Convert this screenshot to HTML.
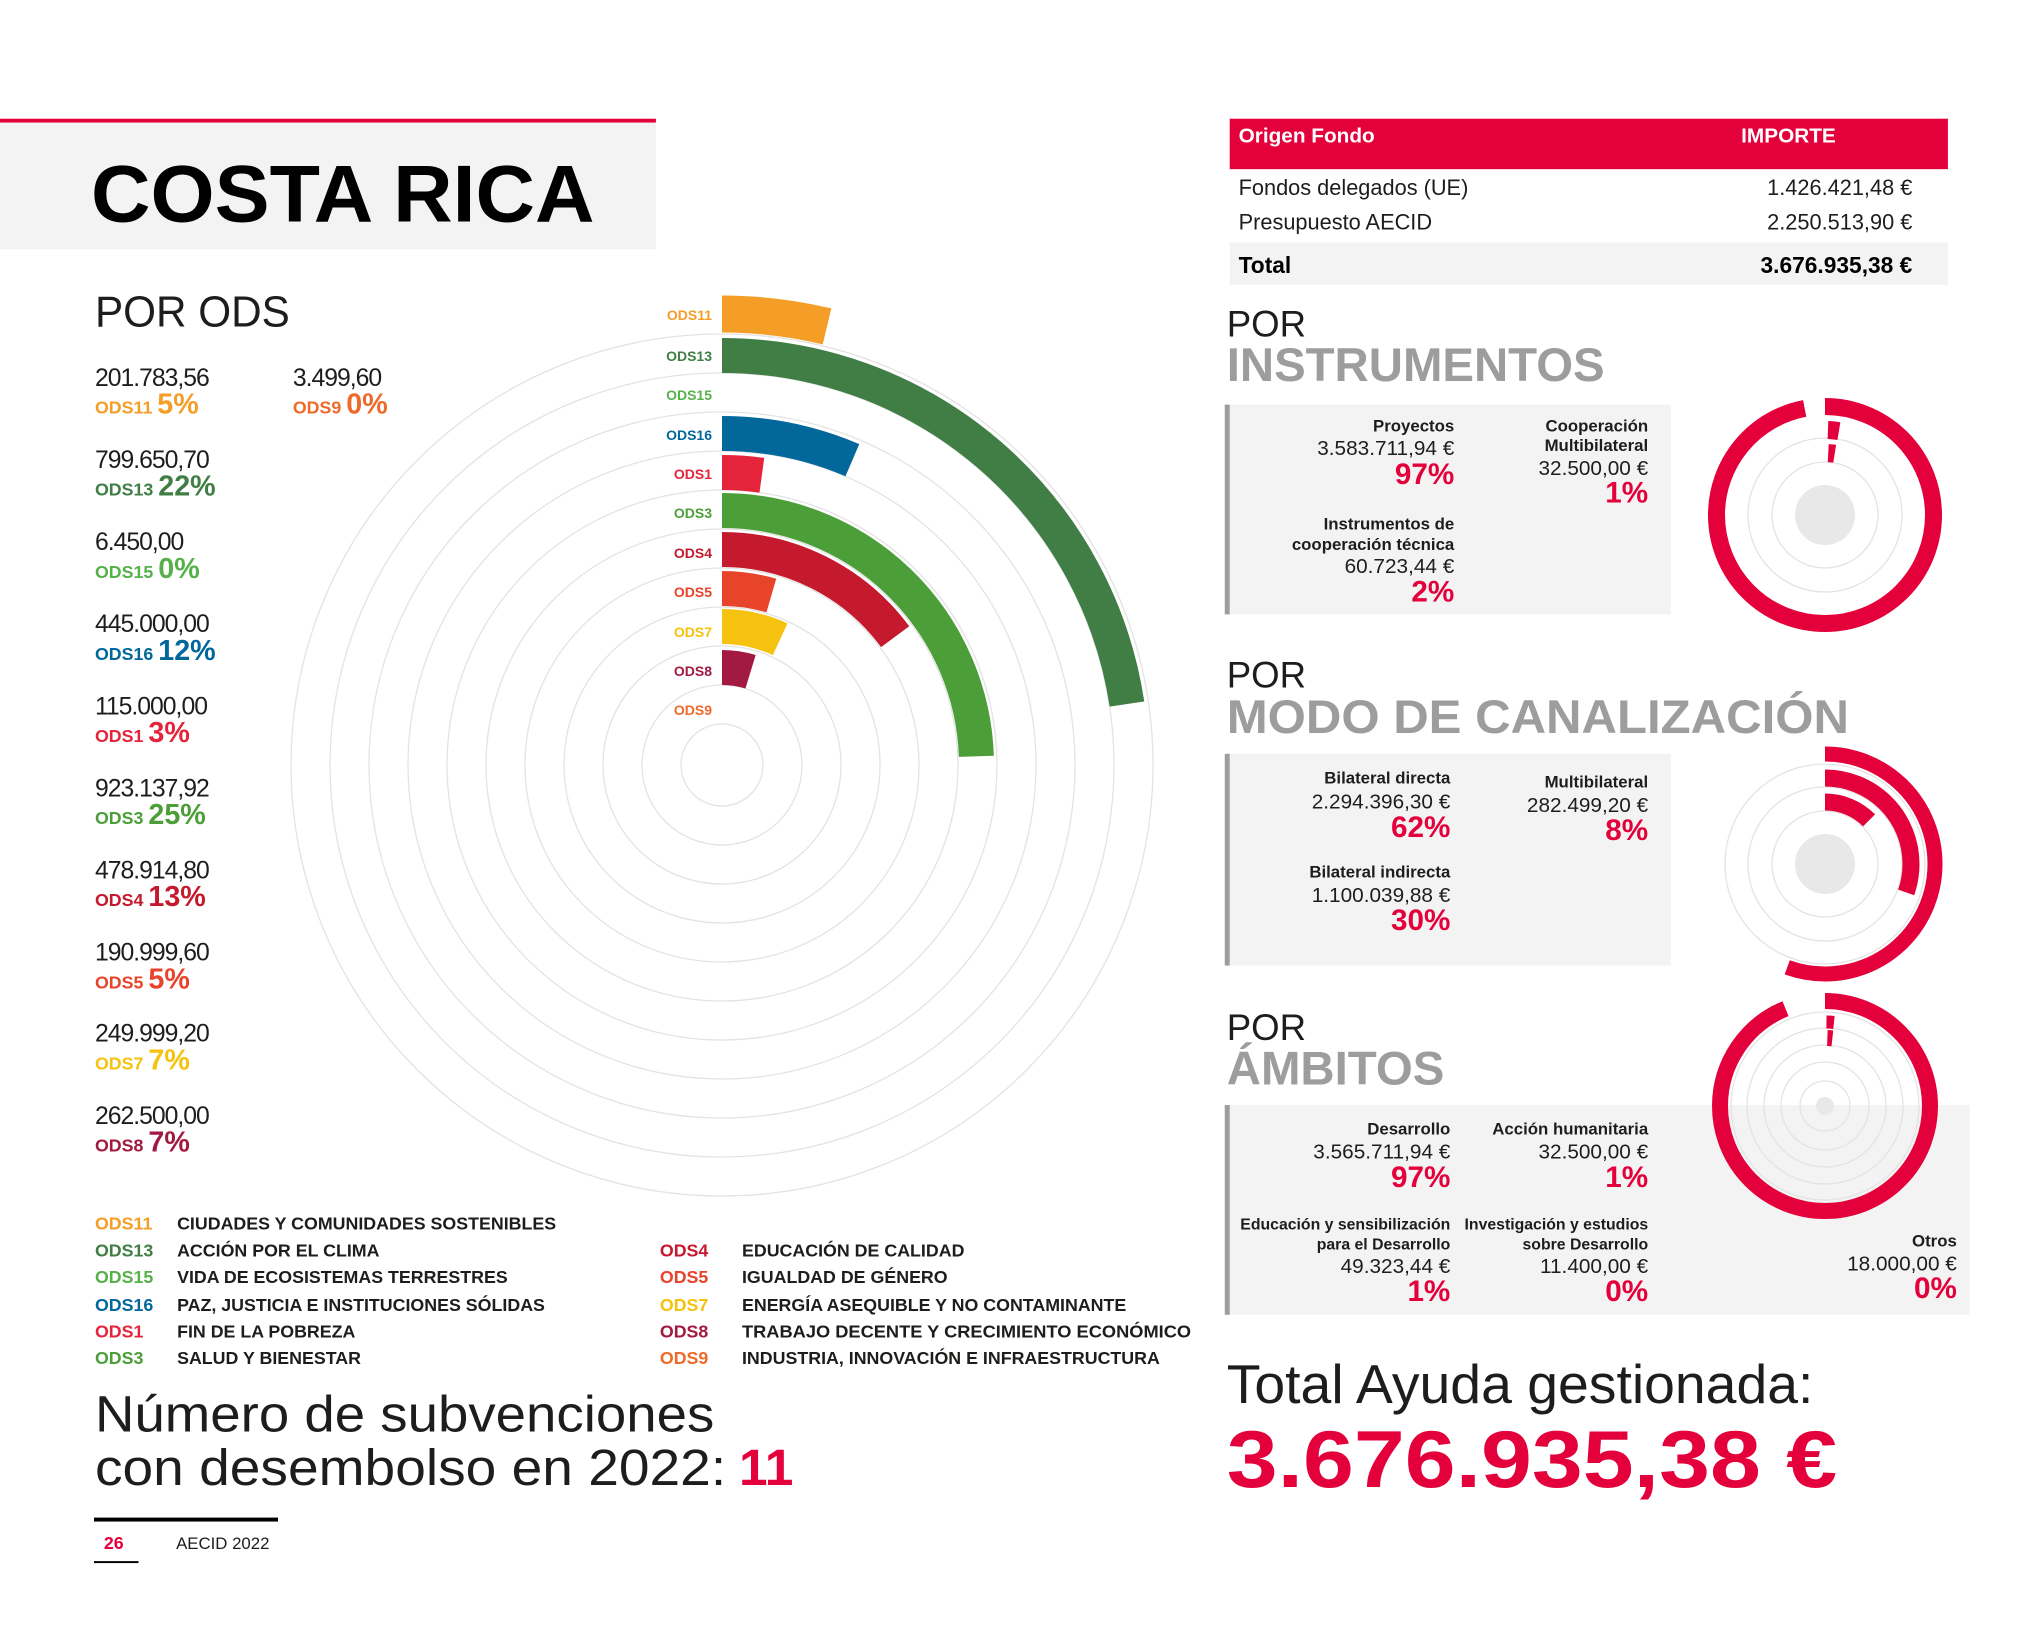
<!DOCTYPE html>
<html><head><meta charset="utf-8"><style>
html,body{margin:0;padding:0;background:#fff}
svg{display:block}
text{font-family:"Liberation Sans",sans-serif}
</style></head><body>
<svg width="2044" height="1636" viewBox="0 0 2044 1636" xmlns="http://www.w3.org/2000/svg">
<g transform="scale(0.9893)">
<!-- Title block -->
<rect x="0" y="120" width="663" height="4" fill="#e4003b"/>
<rect x="0" y="124" width="663" height="128" fill="#f3f3f3"/>
<text x="92" y="224" font-size="82" font-weight="bold" fill="#000" textLength="509" lengthAdjust="spacingAndGlyphs">COSTA RICA</text>

<text x="96" y="330" font-size="44" fill="#1d1d1b" textLength="197" lengthAdjust="spacingAndGlyphs">POR ODS</text>

<g font-size="25" fill="#1d1d1b" letter-spacing="-1">
<text x="96" y="390">201.783,56</text>
<text x="296" y="390">3.499,60</text>
<text x="96" y="473">799.650,70</text>
<text x="96" y="556">6.450,00</text>
<text x="96" y="639">445.000,00</text>
<text x="96" y="722">115.000,00</text>
<text x="96" y="805">923.137,92</text>
<text x="96" y="888">478.914,80</text>
<text x="96" y="971">190.999,60</text>
<text x="96" y="1053">249.999,20</text>
<text x="96" y="1136">262.500,00</text>
</g>
<g font-weight="bold">
<text x="96" y="418" fill="#f49e28"><tspan font-size="18">ODS11 </tspan><tspan font-size="29">5%</tspan></text>
<text x="296" y="418" fill="#ee6a2a"><tspan font-size="18">ODS9 </tspan><tspan font-size="29">0%</tspan></text>
<text x="96" y="501" fill="#407e45"><tspan font-size="18">ODS13 </tspan><tspan font-size="29">22%</tspan></text>
<text x="96" y="584" fill="#56b14a"><tspan font-size="18">ODS15 </tspan><tspan font-size="29">0%</tspan></text>
<text x="96" y="667" fill="#02689b"><tspan font-size="18">ODS16 </tspan><tspan font-size="29">12%</tspan></text>
<text x="96" y="750" fill="#e5243b"><tspan font-size="18">ODS1 </tspan><tspan font-size="29">3%</tspan></text>
<text x="96" y="833" fill="#4c9f38"><tspan font-size="18">ODS3 </tspan><tspan font-size="29">25%</tspan></text>
<text x="96" y="916" fill="#c5192d"><tspan font-size="18">ODS4 </tspan><tspan font-size="29">13%</tspan></text>
<text x="96" y="999" fill="#e8432b"><tspan font-size="18">ODS5 </tspan><tspan font-size="29">5%</tspan></text>
<text x="96" y="1081" fill="#f5c20f"><tspan font-size="18">ODS7 </tspan><tspan font-size="29">7%</tspan></text>
<text x="96" y="1164" fill="#a21942"><tspan font-size="18">ODS8 </tspan><tspan font-size="29">7%</tspan></text>
</g>

<g font-size="18" font-weight="bold">
<text x="96" y="1243" fill="#f49e28">ODS11</text><text x="179" y="1243" fill="#1d1d1b">CIUDADES Y COMUNIDADES SOSTENIBLES</text>
<text x="96" y="1270" fill="#407e45">ODS13</text><text x="179" y="1270" fill="#1d1d1b">ACCIÓN POR EL CLIMA</text>
<text x="96" y="1297" fill="#56b14a">ODS15</text><text x="179" y="1297" fill="#1d1d1b">VIDA DE ECOSISTEMAS TERRESTRES</text>
<text x="96" y="1325" fill="#02689b">ODS16</text><text x="179" y="1325" fill="#1d1d1b">PAZ, JUSTICIA E INSTITUCIONES SÓLIDAS</text>
<text x="96" y="1352" fill="#e5243b">ODS1</text><text x="179" y="1352" fill="#1d1d1b">FIN DE LA POBREZA</text>
<text x="96" y="1379" fill="#4c9f38">ODS3</text><text x="179" y="1379" fill="#1d1d1b">SALUD Y BIENESTAR</text>
<text x="667" y="1270" fill="#c5192d">ODS4</text><text x="750" y="1270" fill="#1d1d1b">EDUCACIÓN DE CALIDAD</text>
<text x="667" y="1297" fill="#e8432b">ODS5</text><text x="750" y="1297" fill="#1d1d1b">IGUALDAD DE GÉNERO</text>
<text x="667" y="1325" fill="#f5c20f">ODS7</text><text x="750" y="1325" fill="#1d1d1b">ENERGÍA ASEQUIBLE Y NO CONTAMINANTE</text>
<text x="667" y="1352" fill="#a21942">ODS8</text><text x="750" y="1352" fill="#1d1d1b" textLength="454" lengthAdjust="spacingAndGlyphs">TRABAJO DECENTE Y CRECIMIENTO ECONÓMICO</text>
<text x="667" y="1379" fill="#ee6a2a">ODS9</text><text x="750" y="1379" fill="#1d1d1b">INDUSTRIA, INNOVACIÓN E INFRAESTRUCTURA</text>
</g>

<text x="96" y="1447" font-size="52" fill="#1d1d1b" textLength="626" lengthAdjust="spacingAndGlyphs">Número de subvenciones</text>
<text x="96" y="1501" font-size="52" fill="#1d1d1b" textLength="638" lengthAdjust="spacingAndGlyphs">con desembolso en 2022:</text>
<text x="747" y="1501" font-size="52" font-weight="bold" fill="#e4003b">11</text>

<rect x="95" y="1534" width="186" height="4" fill="#000"/>
<text x="105" y="1566" font-size="18" font-weight="bold" fill="#e4003b">26</text>
<rect x="95" y="1578" width="45" height="2" fill="#000"/>
<text x="178" y="1566" font-size="17" fill="#1d1d1b">AECID 2022</text>

<rect x="1243" y="120" width="726" height="51" fill="#e4003b"/>
<text x="1252" y="144" font-size="21" font-weight="bold" fill="#fff">Origen Fondo</text>
<text x="1760" y="144" font-size="21" font-weight="bold" fill="#fff">IMPORTE</text>
<text x="1252" y="197" font-size="22" fill="#1d1d1b">Fondos delegados (UE)</text>
<text x="1933" y="197" font-size="22" fill="#1d1d1b" text-anchor="end">1.426.421,48 €</text>
<text x="1252" y="232" font-size="22" fill="#1d1d1b">Presupuesto AECID</text>
<text x="1933" y="232" font-size="22" fill="#1d1d1b" text-anchor="end">2.250.513,90 €</text>
<rect x="1243" y="245" width="726" height="43" fill="#f3f3f3"/>
<text x="1252" y="276" font-size="23" font-weight="bold" fill="#000">Total</text>
<text x="1933" y="276" font-size="23" font-weight="bold" fill="#000" text-anchor="end">3.676.935,38 €</text>

<text x="1240" y="340" font-size="37" fill="#1d1d1b">POR</text>
<text x="1240" y="385" font-size="48" font-weight="bold" fill="#9d9d9c" textLength="382" lengthAdjust="spacingAndGlyphs">INSTRUMENTOS</text>
<rect x="1240" y="409" width="449" height="212" fill="#f3f3f3"/>
<rect x="1238" y="409" width="5" height="212" fill="#9d9d9c"/>
<g text-anchor="end" fill="#1d1d1b">
<text x="1470" y="436" font-size="17" font-weight="bold">Proyectos</text>
<text x="1470" y="460" font-size="21">3.583.711,94 €</text>
<text x="1470" y="489" font-size="30" font-weight="bold" fill="#e4003b">97%</text>
<text x="1470" y="535" font-size="17" font-weight="bold">Instrumentos de</text>
<text x="1470" y="556" font-size="17" font-weight="bold">cooperación técnica</text>
<text x="1470" y="579" font-size="21">60.723,44 €</text>
<text x="1470" y="608" font-size="30" font-weight="bold" fill="#e4003b">2%</text>
<text x="1666" y="436" font-size="17" font-weight="bold">Cooperación</text>
<text x="1666" y="456" font-size="17" font-weight="bold">Multibilateral</text>
<text x="1666" y="480" font-size="21">32.500,00 €</text>
<text x="1666" y="508" font-size="30" font-weight="bold" fill="#e4003b">1%</text>
</g>

<text x="1240" y="695" font-size="37" fill="#1d1d1b">POR</text>
<text x="1240" y="741" font-size="48" font-weight="bold" fill="#9d9d9c" textLength="629" lengthAdjust="spacingAndGlyphs">MODO DE CANALIZACIÓN</text>
<rect x="1240" y="762" width="449" height="214" fill="#f3f3f3"/>
<rect x="1238" y="762" width="5" height="214" fill="#9d9d9c"/>
<g text-anchor="end" fill="#1d1d1b">
<text x="1466" y="792" font-size="17" font-weight="bold">Bilateral directa</text>
<text x="1466" y="817" font-size="21">2.294.396,30 €</text>
<text x="1466" y="846" font-size="30" font-weight="bold" fill="#e4003b">62%</text>
<text x="1466" y="887" font-size="17" font-weight="bold">Bilateral indirecta</text>
<text x="1466" y="912" font-size="21">1.100.039,88 €</text>
<text x="1466" y="940" font-size="30" font-weight="bold" fill="#e4003b">30%</text>
<text x="1666" y="796" font-size="17" font-weight="bold">Multibilateral</text>
<text x="1666" y="821" font-size="21">282.499,20 €</text>
<text x="1666" y="849" font-size="30" font-weight="bold" fill="#e4003b">8%</text>
</g>

<text x="1240" y="1051" font-size="37" fill="#1d1d1b">POR</text>
<text x="1240" y="1096" font-size="48" font-weight="bold" fill="#9d9d9c" textLength="220" lengthAdjust="spacingAndGlyphs">ÁMBITOS</text>
<rect x="1240" y="1117" width="751" height="212" fill="#f3f3f3"/>
<rect x="1238" y="1117" width="5" height="212" fill="#9d9d9c"/>

<text x="1240" y="1418" font-size="55" fill="#1d1d1b" textLength="593" lengthAdjust="spacingAndGlyphs">Total Ayuda gestionada:</text>
<text x="1240" y="1503" font-size="82" font-weight="bold" fill="#e4003b" textLength="617" lengthAdjust="spacingAndGlyphs">3.676.935,38 €</text>
</g>

<!-- ODS radial chart (original coords) -->
<g fill="none" stroke="#e3e3e3" stroke-width="1.3">
<circle cx="722" cy="765" r="431"/><circle cx="722" cy="765" r="392"/><circle cx="722" cy="765" r="353"/>
<circle cx="722" cy="765" r="314"/><circle cx="722" cy="765" r="275"/><circle cx="722" cy="765" r="236"/>
<circle cx="722" cy="765" r="197"/><circle cx="722" cy="765" r="158"/><circle cx="722" cy="765" r="119"/>
<circle cx="722" cy="765" r="80"/><circle cx="722" cy="765" r="41"/>
</g>
<g fill="none" transform="rotate(-90 722 765)">
<circle cx="722" cy="765" r="451" stroke="#f49e28" stroke-width="37" stroke-dasharray="106 5000"/>
<circle cx="722" cy="765" r="409.5" stroke="#407e45" stroke-width="35" stroke-dasharray="582 5000"/>
<circle cx="722" cy="765" r="331.5" stroke="#02689b" stroke-width="35" stroke-dasharray="134 5000"/>
<circle cx="722" cy="765" r="292.5" stroke="#e5243b" stroke-width="35" stroke-dasharray="40 5000"/>
<circle cx="722" cy="765" r="254.5" stroke="#4c9f38" stroke-width="35" stroke-dasharray="391 5000"/>
<circle cx="722" cy="765" r="215.5" stroke="#c5192d" stroke-width="35" stroke-dasharray="201 5000"/>
<circle cx="722" cy="765" r="176.5" stroke="#e8432b" stroke-width="35" stroke-dasharray="50 5000"/>
<circle cx="722" cy="765" r="138.5" stroke="#f5c20f" stroke-width="35" stroke-dasharray="60 5000"/>
<circle cx="722" cy="765" r="97.5" stroke="#a21942" stroke-width="35" stroke-dasharray="29 5000"/>
</g>
<g font-size="14" font-weight="bold" text-anchor="end">
<text x="712" y="320" fill="#f49e28">ODS11</text>
<text x="712" y="361" fill="#407e45">ODS13</text>
<text x="712" y="400" fill="#56b14a">ODS15</text>
<text x="712" y="440" fill="#02689b">ODS16</text>
<text x="712" y="479" fill="#e5243b">ODS1</text>
<text x="712" y="518" fill="#4c9f38">ODS3</text>
<text x="712" y="558" fill="#c5192d">ODS4</text>
<text x="712" y="597" fill="#e8432b">ODS5</text>
<text x="712" y="637" fill="#f5c20f">ODS7</text>
<text x="712" y="676" fill="#a21942">ODS8</text>
<text x="712" y="715" fill="#ee6a2a">ODS9</text>
</g>

<!-- Donuts (original coords) -->
<g fill="none" stroke="#e3e3e3" stroke-width="1.3">
<circle cx="1825" cy="515" r="77"/><circle cx="1825" cy="515" r="53"/>
</g>
<circle cx="1825" cy="515" r="30" fill="#e8e8e8"/>
<g fill="none" stroke="#e4003b" transform="rotate(-90 1825 515)">
<circle cx="1825" cy="515" r="108.5" stroke-width="17" stroke-dasharray="661 5000"/>
<circle cx="1825" cy="515" r="85" stroke-width="18" stroke-dasharray="11 5000" transform="rotate(2 1825 515)"/>
<circle cx="1825" cy="515" r="62" stroke-width="18" stroke-dasharray="6.5 5000" transform="rotate(3 1825 515)"/>
</g>

<g fill="none" stroke="#e3e3e3" stroke-width="1.3">
<circle cx="1825" cy="864" r="100"/><circle cx="1825" cy="864" r="77"/><circle cx="1825" cy="864" r="53"/>
</g>
<circle cx="1825" cy="864" r="30" fill="#e8e8e8"/>
<g fill="none" stroke="#e4003b" transform="rotate(-90 1825 864)">
<circle cx="1825" cy="864" r="110" stroke-width="15" stroke-dasharray="384 5000"/>
<circle cx="1825" cy="864" r="86" stroke-width="17" stroke-dasharray="164 5000"/>
<circle cx="1825" cy="864" r="62" stroke-width="17" stroke-dasharray="49 5000"/>
</g>

<g fill="none" stroke="#e3e3e3" stroke-width="1.3">
<circle cx="1825" cy="1106" r="94"/><circle cx="1825" cy="1106" r="78"/><circle cx="1825" cy="1106" r="61"/>
<circle cx="1825" cy="1106" r="44"/><circle cx="1825" cy="1106" r="25"/>
</g>
<circle cx="1825" cy="1106" r="9" fill="#e8e8e8"/>
<g fill="none" stroke="#e4003b" transform="rotate(-90 1825 1106)">
<circle cx="1825" cy="1106" r="105" stroke-width="16" stroke-dasharray="619 5000"/>
<circle cx="1825" cy="1106" r="84" stroke-width="13" stroke-dasharray="7.5 5000" transform="rotate(1 1825 1106)"/>
<circle cx="1825" cy="1106" r="68" stroke-width="16" stroke-dasharray="5 5000" transform="rotate(2 1825 1106)"/>
</g>

<!-- Ámbitos texts (drawn over box, scaled) -->
<g transform="scale(0.9893)">
<g text-anchor="end" fill="#1d1d1b">
<text x="1466" y="1147" font-size="17" font-weight="bold">Desarrollo</text>
<text x="1466" y="1171" font-size="21">3.565.711,94 €</text>
<text x="1466" y="1200" font-size="30" font-weight="bold" fill="#e4003b">97%</text>
<text x="1466" y="1243" font-size="16" font-weight="bold">Educación y sensibilización</text>
<text x="1466" y="1263" font-size="16" font-weight="bold">para el Desarrollo</text>
<text x="1466" y="1287" font-size="21">49.323,44 €</text>
<text x="1466" y="1315" font-size="30" font-weight="bold" fill="#e4003b">1%</text>
<text x="1666" y="1147" font-size="17" font-weight="bold">Acción humanitaria</text>
<text x="1666" y="1171" font-size="21">32.500,00 €</text>
<text x="1666" y="1200" font-size="30" font-weight="bold" fill="#e4003b">1%</text>
<text x="1666" y="1243" font-size="16" font-weight="bold">Investigación y estudios</text>
<text x="1666" y="1263" font-size="16" font-weight="bold">sobre Desarrollo</text>
<text x="1666" y="1287" font-size="21">11.400,00 €</text>
<text x="1666" y="1315" font-size="30" font-weight="bold" fill="#e4003b">0%</text>
<text x="1978" y="1260" font-size="17" font-weight="bold">Otros</text>
<text x="1978" y="1284" font-size="21">18.000,00 €</text>
<text x="1978" y="1312" font-size="30" font-weight="bold" fill="#e4003b">0%</text>
</g>
</g>
</svg>
</body></html>
